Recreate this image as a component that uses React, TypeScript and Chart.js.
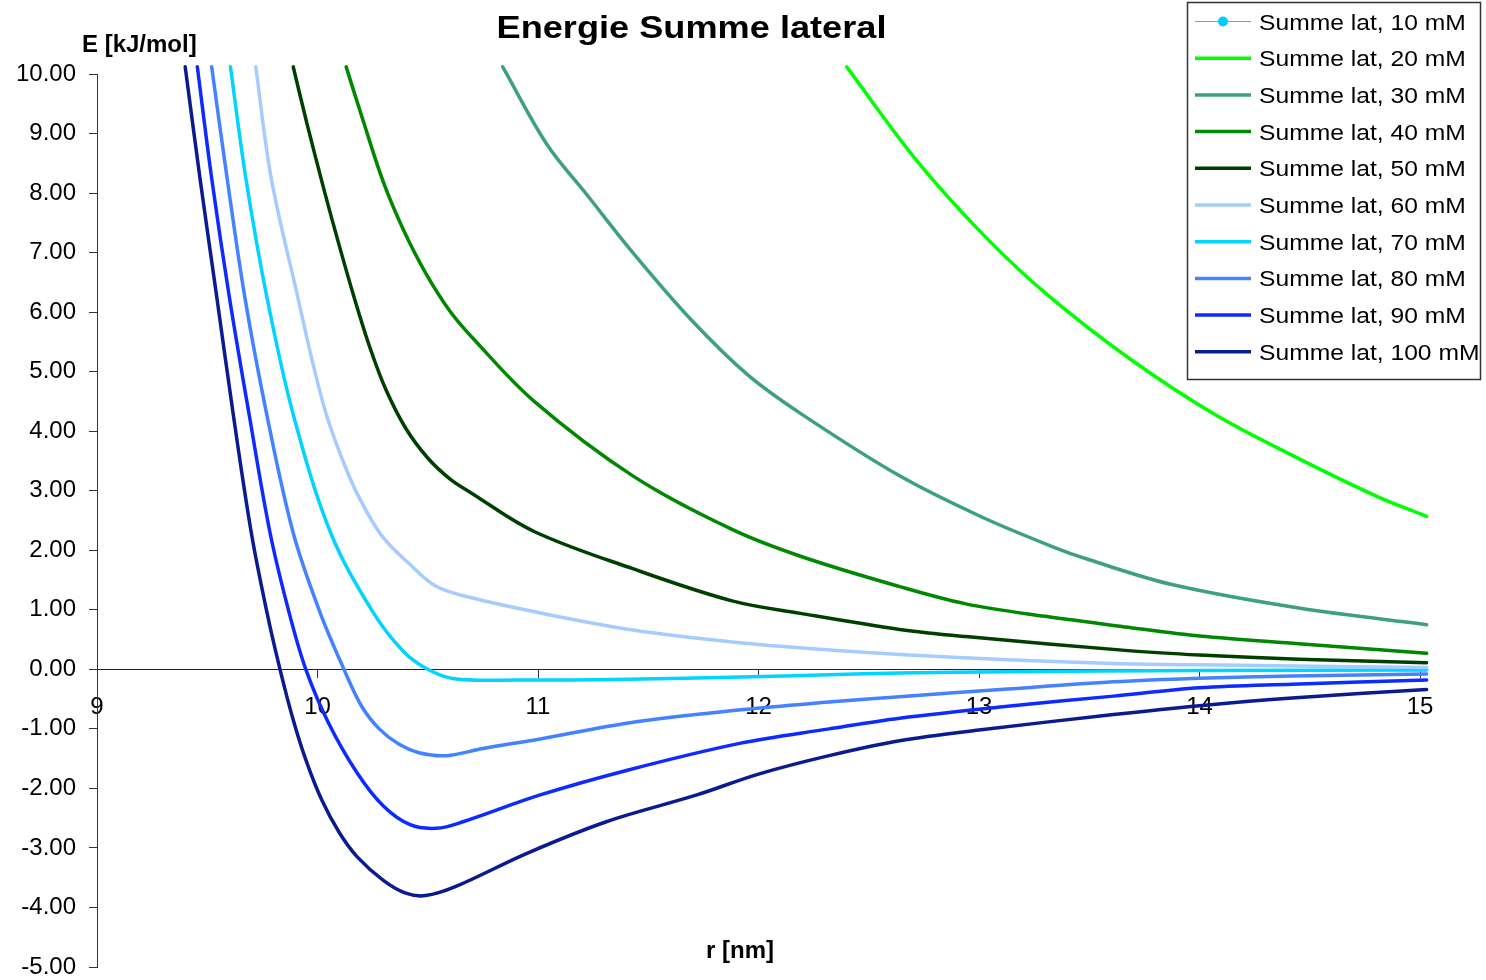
import React, { useEffect, useRef } from 'react';
import { Chart, registerables } from 'chart.js';

Chart.register(...registerables);

// ---------- data ----------
const chartTitle = 'Energie Summe lateral';
const yAxisTitle = 'E [kJ/mol]';
const xAxisTitle = 'r [nm]';

const seriesLabels = [
  'Summe lat, 10 mM',
  'Summe lat, 20 mM',
  'Summe lat, 30 mM',
  'Summe lat, 40 mM',
  'Summe lat, 50 mM',
  'Summe lat, 60 mM',
  'Summe lat, 70 mM',
  'Summe lat, 80 mM',
  'Summe lat, 90 mM',
  'Summe lat, 100 mM',
];

const seriesColors = [
  '#00CCFF',
  '#00FF00',
  '#3DA17A',
  '#008800',
  '#003F00',
  '#A6CCFF',
  '#00D4FF',
  '#4482FF',
  '#0D2BFF',
  '#0A1A8F',
];

// r [nm], E [kJ/mol]
const s10: number[][] = [];
const s20 = [
  [12.40, 10.12], [12.71, 8.58], [13.03, 7.26], [13.32, 6.26], [13.69, 5.20],
  [14.07, 4.28], [14.45, 3.54], [14.82, 2.88], [15.03, 2.57],
];
const s30 = [
  [10.84, 10.12], [11.04, 8.82], [11.22, 7.98], [11.43, 7.0], [11.70, 5.85],
  [11.95, 4.95], [12.19, 4.30], [12.64, 3.25], [13.0, 2.58], [13.32, 2.08],
  [13.5, 1.84], [13.88, 1.42], [14.45, 1.03], [15.03, 0.75],
];
const s40 = [
  [10.13, 10.12], [10.21, 9.18], [10.30, 8.17], [10.39, 7.38], [10.49, 6.66],
  [10.60, 6.02], [10.71, 5.54], [10.98, 4.51], [11.43, 3.25], [11.88, 2.35],
  [12.19, 1.90], [12.64, 1.39], [12.94, 1.10], [13.30, 0.89], [13.69, 0.70],
  [14.0, 0.56], [14.45, 0.43], [15.03, 0.27],
];
const s50 = [
  [9.89, 10.12], [9.95, 9.20], [10.03, 8.05], [10.10, 7.10], [10.17, 6.20],
  [10.24, 5.38], [10.31, 4.70], [10.40, 4.05], [10.50, 3.55], [10.60, 3.20],
  [10.69, 2.98], [10.98, 2.32], [11.43, 1.69], [11.88, 1.15], [12.19, 0.94],
  [12.64, 0.67], [12.94, 0.55], [13.69, 0.31], [14.0, 0.24], [14.45, 0.17],
  [15.03, 0.11],
];
const s60 = [
  [9.72, 10.12], [9.79, 8.25], [9.91, 6.26], [9.975, 5.20], [10.04, 4.28],
  [10.11, 3.55], [10.18, 2.95], [10.29, 2.25], [10.42, 1.76], [10.54, 1.39],
  [10.69, 1.21], [10.98, 0.97], [11.43, 0.66], [11.88, 0.46], [12.34, 0.32],
  [12.64, 0.25], [13.13, 0.16], [13.61, 0.10], [14.0, 0.075], [15.03, 0.03],
];
const s70 = [
  [9.605, 10.12], [9.675, 8.25], [9.77, 6.26], [9.89, 4.28], [10.06, 2.29],
  [10.25, 0.97], [10.39, 0.30], [10.50, 0.0], [10.62, -0.16], [10.91, -0.18],
  [11.41, -0.165], [11.92, -0.13], [12.32, -0.09], [12.64, -0.06], [13.13, -0.04],
  [14.0, -0.02], [15.03, -0.01],
];
const s80 = [
  [9.52, 10.12], [9.59, 8.25], [9.67, 6.26], [9.77, 4.28], [9.89, 2.29],
  [10.01, 0.97], [10.12, 0.0], [10.20, -0.62], [10.28, -1.0], [10.37, -1.26],
  [10.46, -1.40], [10.585, -1.45], [10.75, -1.33], [11.01, -1.17], [11.41, -0.90],
  [11.92, -0.68], [12.32, -0.55], [12.64, -0.46], [13.13, -0.33], [13.61, -0.21],
  [14.0, -0.15], [14.42, -0.11], [15.03, -0.08],
];
const s90 = [
  [9.455, 10.12], [9.52, 8.25], [9.60, 6.26], [9.69, 4.28], [9.785, 2.29],
  [9.87, 0.97], [9.947, 0.0], [10.05, -0.90], [10.18, -1.74], [10.30, -2.30],
  [10.42, -2.61], [10.54, -2.67], [10.66, -2.56], [11.01, -2.11], [11.41, -1.69],
  [11.92, -1.24], [12.32, -1.0], [12.64, -0.82], [13.13, -0.62], [13.61, -0.45],
  [14.0, -0.31], [14.42, -0.25], [15.03, -0.18],
];
const s100 = [
  [9.40, 10.12], [9.467, 8.25], [9.543, 6.26], [9.618, 4.28], [9.70, 2.29],
  [9.77, 0.97], [9.83, 0.0], [9.89, -0.85], [9.95, -1.55], [10.02, -2.20],
  [10.10, -2.75], [10.18, -3.15], [10.30, -3.55], [10.40, -3.76], [10.49, -3.80],
  [10.625, -3.65], [10.95, -3.09], [11.31, -2.56], [11.72, -2.11], [12.0, -1.76],
  [12.32, -1.45], [12.64, -1.20], [13.0, -1.02], [13.61, -0.76], [14.0, -0.61],
  [14.42, -0.48], [15.03, -0.34],
];

const seriesData = [s10, s20, s30, s40, s50, s60, s70, s80, s90, s100];

const xMin = 9;
const xMax = 15;
const yMin = -5;
const yMax = 10;

// ---------- drawing helpers ----------
const FONT = '"Liberation Sans", Arial, Helvetica, sans-serif';

function drawText(
  ctx: CanvasRenderingContext2D,
  text: string,
  x: number,
  y: number,
  font: string,
  sx: number,
  align: 'left' | 'center' | 'right',
  baseline: CanvasTextBaseline = 'alphabetic'
) {
  ctx.save();
  ctx.font = font;
  ctx.textBaseline = baseline;
  ctx.textAlign = 'left';
  const w = ctx.measureText(text).width * sx;
  const x0 = align === 'center' ? x - w / 2 : align === 'right' ? x - w : x;
  ctx.translate(x0, y);
  ctx.scale(sx, 1);
  ctx.fillStyle = '#000';
  ctx.fillText(text, 0, 0);
  ctx.restore();
}

const decorPlugin = {
  id: 'excelDecor',
  afterDraw(chart: any) {
    const ctx: CanvasRenderingContext2D = chart.ctx;
    // titles
    drawText(ctx, chartTitle, 691.5, 38, `bold 32px ${FONT}`, 1.13, 'center');
    drawText(ctx, yAxisTitle, 82, 52, `bold 24px ${FONT}`, 1.0, 'left');
    drawText(ctx, xAxisTitle, 740, 958, `bold 24px ${FONT}`, 1.0, 'center');

    // legend
    const bx = 1187.5, by = 2.5, bw = 293, bh = 377;
    ctx.save();
    ctx.fillStyle = '#fff';
    ctx.fillRect(bx, by, bw, bh);
    ctx.strokeStyle = '#333';
    ctx.lineWidth = 1.5;
    ctx.strokeRect(bx, by, bw, bh);
    const ds = chart.data.datasets;
    for (let i = 0; i < ds.length; i++) {
      const cy = 21.5 + i * 36.7;
      ctx.strokeStyle = ds[i].borderColor;
      ctx.lineWidth = ds[i].borderWidth;
      ctx.beginPath();
      ctx.moveTo(1195, cy);
      ctx.lineTo(1251, cy);
      ctx.stroke();
      if (ds[i].pointRadius > 0) {
        ctx.fillStyle = ds[i].borderColor;
        ctx.beginPath();
        ctx.arc(1223, cy, 5, 0, Math.PI * 2);
        ctx.fill();
      }
      drawText(ctx, ds[i].label, 1259, cy + 8, `22px ${FONT}`, 1.12, 'left');
    }
    ctx.restore();
  },
};

export default function App() {
  const canvasRef = useRef<HTMLCanvasElement | null>(null);

  useEffect(() => {
    const canvas = canvasRef.current;
    if (!canvas) return;
    const datasets = seriesLabels.map((label, i) => ({
      label,
      data: seriesData[i].map(([x, y]) => ({ x, y })),
      borderColor: seriesColors[i],
      backgroundColor: seriesColors[i],
      borderWidth: i === 0 ? 1 : 3.5,
      pointRadius: i === 0 ? 5 : 0,
      pointHoverRadius: 0,
      pointStyle: 'circle',
      fill: false,
      tension: 0.35,
      borderJoinStyle: 'round' as const,
      borderCapStyle: 'round' as const,
      clip: false as any,
    }));

    const chart = new Chart(canvas, {
      type: 'line',
      data: { datasets },
      options: {
        responsive: false,
        animation: false,
        devicePixelRatio: 1,
        layout: { padding: { left: 0, top: 74, right: 66, bottom: 13 } },
        plugins: {
          legend: { display: false },
          tooltip: { enabled: false },
          title: { display: false },
        },
        events: [],
        scales: {
          x: {
            type: 'linear',
            min: xMin,
            max: xMax,
            position: { y: 0 } as any,
            ticks: {
              stepSize: 1,
              color: '#000',
              padding: 16,
              font: { family: FONT, size: 24 },
              callback: (v: any) => String(v),
            },
            grid: {
              display: true,
              drawOnChartArea: false,
              drawTicks: true,
              tickLength: 8,
              color: '#333',
            },
            border: { display: true, color: '#222', width: 1 },
            afterFit: (s: any) => {
              s.paddingLeft = 0;
              s.paddingRight = 0;
            },
          },
          y: {
            type: 'linear',
            min: yMin,
            max: yMax,
            position: 'left',
            ticks: {
              stepSize: 1,
              color: '#000',
              padding: 13,
              font: { family: FONT, size: 24 },
              callback: (v: any) => Number(v).toFixed(2),
            },
            grid: {
              display: true,
              drawOnChartArea: false,
              drawTicks: true,
              tickLength: 8,
              color: '#333',
            },
            border: { display: true, color: '#333', width: 1 },
            afterFit: (s: any) => {
              s.width = 97;
              s.paddingTop = 0;
              s.paddingBottom = 0;
            },
          },
        },
      },
      plugins: [decorPlugin],
    });

    return () => {
      chart.destroy();
    };
  }, []);

  return (
    <div
      style={{
        position: 'fixed',
        left: 0,
        top: 0,
        width: 1486,
        height: 980,
        background: '#fff',
      }}
    >
      <canvas
        ref={canvasRef}
        width={1486}
        height={980}
        style={{ width: 1486, height: 980, display: 'block' }}
      />
    </div>
  );
}
